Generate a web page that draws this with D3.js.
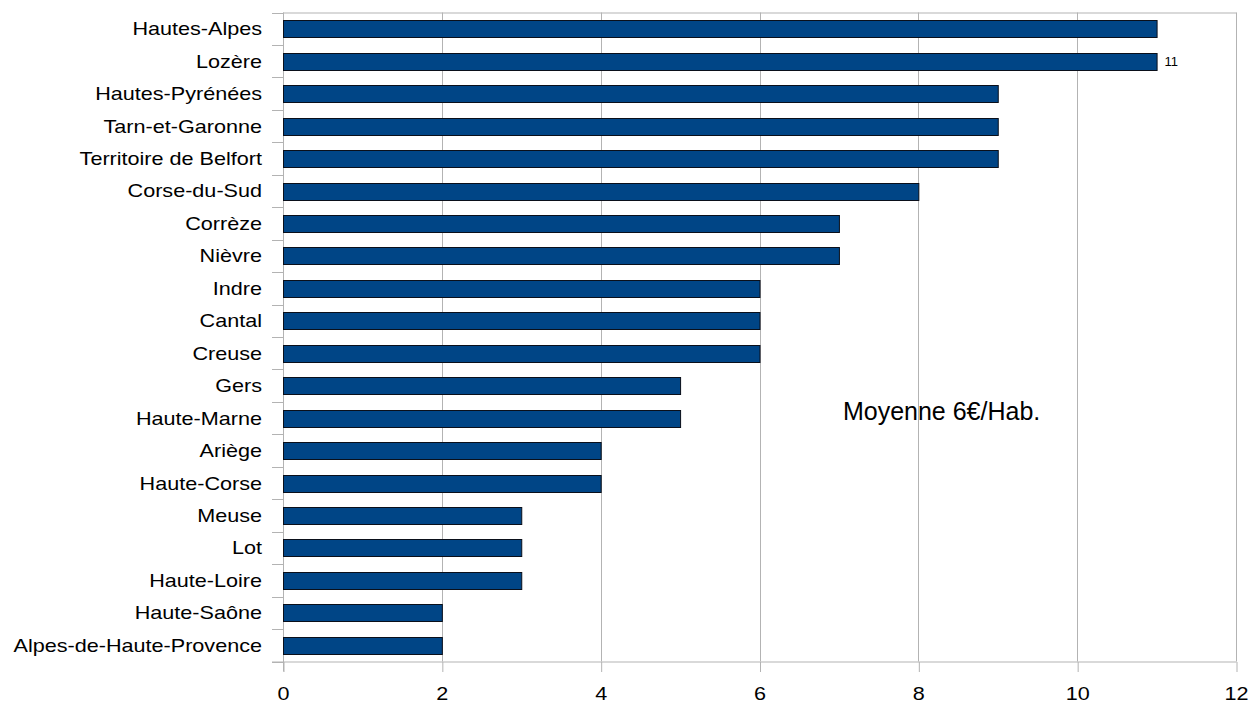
<!DOCTYPE html>
<html><head><meta charset="utf-8">
<script src="https://cdn.jsdelivr.net/npm/d3@7"></script>
<style>
html,body{margin:0;padding:0;background:#fff;}
svg{display:block;}
text{font-family:"Liberation Sans",Arial,sans-serif;fill:#000;}
</style></head>
<body>
<svg id="chart" width="1250" height="704"></svg>
<script>
const categories = ["Hautes-Alpes","Lozère","Hautes-Pyrénées","Tarn-et-Garonne","Territoire de Belfort","Corse-du-Sud","Corrèze","Nièvre","Indre","Cantal","Creuse","Gers","Haute-Marne","Ariège","Haute-Corse","Meuse","Lot","Haute-Loire","Haute-Saône","Alpes-de-Haute-Provence"];
const values = [11,11,9,9,9,8,7,7,6,6,6,5,5,4,4,3,3,3,2,2];
const xTicks = [0,2,4,6,8,10,12];
const valueLabels = [{cat:"Lozère", text:"11"}];
const annotation = "Moyenne 6€/Hab.";

(function(){
const svg = d3.select("#chart");
const pL = 283, pR = 1236, pT = 12.5, pB = 661.5;
const x = d3.scaleLinear().domain([0,12]).range([pL,pR]);
const y = d3.scaleBand().domain(categories).range([pT,pB]).paddingInner(0.48).paddingOuter(0.24);
const grey = "#b3b3b3";

// gridlines
svg.append("g").selectAll("line").data(xTicks.slice(1)).join("line")
  .attr("x1",d=>Math.round(x(d))+0.5).attr("x2",d=>Math.round(x(d))+0.5)
  .attr("y1",pT).attr("y2",pB).attr("stroke",grey).attr("stroke-width",1);
// top border
svg.append("line").attr("x1",pL).attr("x2",pR+0.5).attr("y1",pT+0.5).attr("y2",pT+0.5).attr("stroke",grey);

// bottom axis
const xa = svg.append("g").attr("transform",`translate(0,${pB+0.5})`)
  .call(d3.axisBottom(x).tickValues(xTicks).tickSize(10).tickPadding(0).tickFormat(d3.format("d")));
xa.select(".domain").attr("stroke",grey).attr("d",`M${pL-11},0H${pR+0.5}`);
xa.selectAll(".tick line").attr("stroke",grey).attr("transform","translate(0.5,0)");
xa.selectAll(".tick text").attr("y",0).attr("dy",null)
  .attr("transform","translate(0,38) scale(1.2,1)").style("font-size","18px").attr("fill","#000");

// left axis line and boundary ticks
const bounds = d3.range(categories.length+1).map(i => pT + i*(pB-pT)/categories.length);
svg.append("line").attr("x1",pL+0.5).attr("x2",pL+0.5).attr("y1",pT).attr("y2",pB+10).attr("stroke",grey);
svg.append("g").selectAll("line").data(bounds).join("line")
  .attr("x1",pL-11).attr("x2",pL).attr("y1",d=>Math.round(d)+0.5).attr("y2",d=>Math.round(d)+0.5).attr("stroke",grey);

// category labels
const ya = svg.append("g").attr("transform",`translate(${pL},0)`)
  .call(d3.axisLeft(y).tickSize(0).tickPadding(0));
ya.select(".domain").remove();
ya.selectAll(".tick text").attr("x",0).attr("dy",null)
  .attr("transform","translate(-21,6.5) scale(1.2,1)").style("font-size","18px").attr("fill","#000");

// bars
svg.append("g").selectAll("rect").data(categories).join("rect")
  .attr("x",x(0)+0.5).attr("y",d=>Math.round(y(d))+0.5)
  .attr("width",(d,i)=>x(values[i])-x(0))
  .attr("height",Math.round(y.bandwidth()))
  .attr("fill","#004586").attr("stroke","#0a0f1a").attr("stroke-width",1);

// value labels
svg.append("g").selectAll("text").data(valueLabels).join("text")
  .attr("x",d=>x(values[categories.indexOf(d.cat)])+8)
  .attr("y",d=>y(d.cat)+y.bandwidth()/2+5)
  .style("font-size","13px").text(d=>d.text);

// annotation
svg.append("text").attr("x",x(7)+4).attr("y",420).style("font-size","25px").text(annotation);
})();
</script>
</body></html>
